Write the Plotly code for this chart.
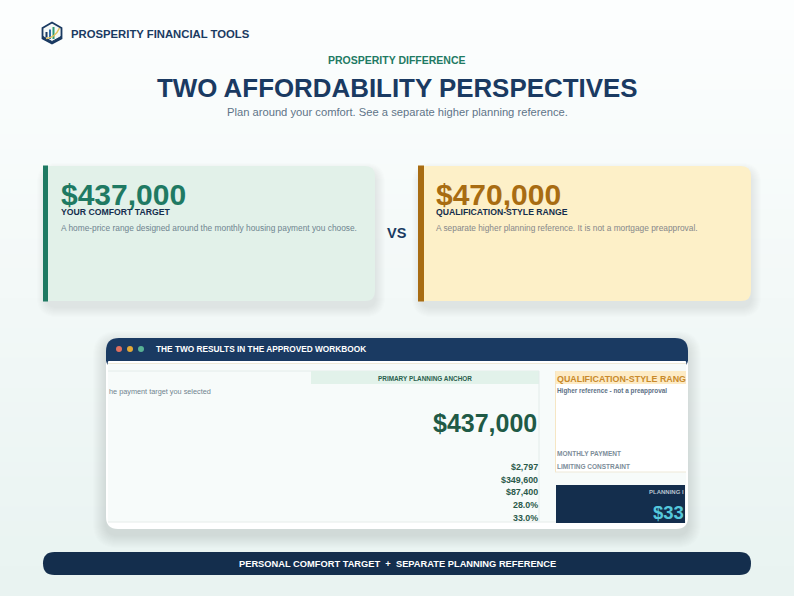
import plotly.graph_objects as go

WIDTH = 794
HEIGHT = 596
FONT = "Liberation Sans"

NAVY = "#1a3a62"
DARK_NAVY = "#142e4d"
GREEN = "#1f7a63"
BROWN = "#a86c12"

brand = "PROSPERITY FINANCIAL TOOLS"
eyebrow = "PROSPERITY DIFFERENCE"
title = "TWO AFFORDABILITY PERSPECTIVES"
subtitle = "Plan around your comfort. See a separate higher planning reference."

comfort_value = "$437,000"
comfort_label = "YOUR COMFORT TARGET"
comfort_note = "A home-price range designed around the monthly housing payment you choose."
range_value = "$470,000"
range_label = "QUALIFICATION-STYLE RANGE"
range_note = "A separate higher planning reference. It is not a mortgage preapproval."

window_title = "THE TWO RESULTS IN THE APPROVED WORKBOOK"
anchor_header = "PRIMARY PLANNING ANCHOR"
anchor_note = "he payment target you selected"
side_header = "QUALIFICATION-STYLE RANG"
side_note = "Higher reference - not a preapproval"
side_rows = ["MONTHLY PAYMENT", "LIMITING CONSTRAINT"]
sheet_values = ["$2,797", "$349,600", "$87,400", "28.0%", "33.0%"]
planning_label = "PLANNING I"
planning_value = "$33"
footer = "PERSONAL COMFORT TARGET  +  SEPARATE PLANNING REFERENCE"


def round_rect(x0, y0, x1, y1, r=(0, 0, 0, 0)):
    # r = top left, top right, bottom right, bottom left
    tl, tr, br, bl = r
    return (f"M{x0+tl},{y0} L{x1-tr},{y0} Q{x1},{y0} {x1},{y0+tr} "
            f"L{x1},{y1-br} Q{x1},{y1} {x1-br},{y1} "
            f"L{x0+bl},{y1} Q{x0},{y1} {x0},{y1-bl} "
            f"L{x0},{y0+tl} Q{x0},{y0} {x0+tl},{y0} Z")


def box(x0, y0, x1, y1, fill, r=(0, 0, 0, 0), line=None, opacity=1):
    return dict(type="path", path=round_rect(x0, y0, x1, y1, r), fillcolor=fill,
                opacity=opacity, line=dict(width=1 if line else 0, color=line or fill))


def shadow(x0, y0, x1, y1, radius, dy=5, spread=10, alpha=0.012):
    out = []
    for i in range(spread, 0, -1):
        out.append(box(x0 - i, y0 + dy - i, x1 + i, y1 + dy + i, "#34505f",
                       (radius + i,) * 4, opacity=alpha))
    return out


def label(x, y, text, size, color, anchor="left", bold=True):
    return dict(x=x, y=y, text=f"<b>{text}</b>" if bold else text, showarrow=False,
                xanchor=anchor, yanchor="middle", borderpad=0,
                font=dict(family=FONT, size=size, color=color))


shapes = []

# page background, light at the top going to a pale green grey
BANDS = 40
for i in range(BANDS):
    t = i / (BANDS - 1)
    c = [int(round(a + (b - a) * t)) for a, b in zip((252, 254, 254), (233, 243, 241))]
    shapes.append(dict(type="rect", x0=0, x1=WIDTH, y0=HEIGHT * i / BANDS, y1=HEIGHT * (i + 1) / BANDS + 1,
                       fillcolor=f"rgb({c[0]},{c[1]},{c[2]})", line=dict(width=0)))

# logo
shapes.append(dict(type="path", path="M52,22.5 L61.5,28 L61.5,38.5 L52,43.5 L42.5,38.5 L42.5,28 Z",
                   fillcolor="#f4f8f6", line=dict(color=NAVY, width=1.8)))
shapes.append(dict(type="path", path="M43,36.5 L52,41.5 L61,36.5 L61,38.5 L52,43.5 L43,38.5 Z",
                   fillcolor=NAVY, line=dict(color=NAVY, width=1)))
shapes.append(box(45.5, 32, 47.5, 37.5, NAVY))
shapes.append(box(49, 29.5, 51, 39, "#2d6ca8"))
shapes.append(box(52.5, 27, 54.5, 39, "#2f9a76"))
shapes.append(dict(type="path", path="M46,38.5 Q55,38 59.5,28", line=dict(color="#e3c35c", width=1.5)))

# comfort card
shapes += shadow(47, 167, 375, 301, 10, dy=6)
shapes.append(box(45, 166, 375, 301, "#e2f1e9", (0, 10, 10, 0)))
shapes.append(box(43, 165.5, 48, 301.5, GREEN))

# range card
shapes += shadow(422, 167, 751, 301, 10, dy=6)
shapes.append(box(420, 166, 751, 301, "#fdf0c8", (0, 10, 10, 0)))
shapes.append(box(418, 165.5, 424, 301.5, BROWN))

# workbook window
shapes += shadow(106, 338, 688, 529, 12, dy=6, spread=13)
shapes.append(box(106, 338, 688, 529, "#ffffff", (13, 13, 12, 12)))
shapes.append(box(108, 364, 686, 522, "#f7fbfa"))
shapes.append(box(106, 338, 688, 361, NAVY, (13, 13, 0, 0)))
shapes.append(dict(type="path", path="M106,360 L109,360 Q107.5,361.5 107.5,365 Q106,362 106,360 Z",
                   fillcolor=NAVY, line=dict(width=0)))
shapes.append(dict(type="path", path="M688,360 L685,360 Q686.5,361.5 686.5,365 Q688,362 688,360 Z",
                   fillcolor=NAVY, line=dict(width=0)))
shapes.append(dict(type="line", x0=108, x1=686, y0=363.5, y1=363.5, line=dict(color="#eee9d8", width=1)))
shapes.append(dict(type="line", x0=108, x1=539, y0=371, y1=371, line=dict(color="#e4ecea", width=1)))
shapes.append(box(311, 371, 539, 384, "#e2f2ea"))
shapes.append(dict(type="line", x0=539, x1=539, y0=371, y1=522, line=dict(color="#e3ecea", width=1)))
shapes.append(dict(type="line", x0=108, x1=686, y0=522, y1=522, line=dict(color="#e6ecea", width=1)))

# qualification panel
shapes.append(box(555, 371, 686, 472, "#ffffff"))
shapes.append(box(555, 371, 686, 384, "#fdebc6"))
shapes.append(dict(type="line", x0=555.5, x1=555.5, y0=371, y1=472, line=dict(color="#f6e6c4", width=1)))
shapes.append(dict(type="line", x0=555, x1=686, y0=472, y1=472, line=dict(color="#efe9d8", width=1)))
shapes.append(box(556, 485, 685, 523, DARK_NAVY))

# window buttons
for cx, color in zip((119, 130, 141), ("#df6f5f", "#e3a937", "#58b295")):
    shapes.append(dict(type="circle", x0=cx - 3, x1=cx + 3, y0=346, y1=352, fillcolor=color, line=dict(width=0)))

# footer pill
shapes.append(box(43, 552, 751, 575, DARK_NAVY, (11.5,) * 4))

annotations = [
    label(70, 34, brand, 11.3, NAVY),
    label(397, 60, eyebrow, 10.5, GREEN, "center"),
    label(397, 88, title, 25.9, NAVY, "center"),
    label(397, 112, subtitle, 11.2, "#5f7488", "center", bold=False),

    label(59.5, 194.5, comfort_value, 30, GREEN),
    label(59.5, 212, comfort_label, 8.7, DARK_NAVY),
    label(59.5, 228, comfort_note, 8.35, "#6f8590", bold=False),

    label(435, 194.5, range_value, 30, BROWN),
    label(435, 212, range_label, 8.67, DARK_NAVY),
    label(435, 228, range_note, 8.35, "#87888a", bold=False),

    label(397, 233, "VS", 14.5, NAVY, "center"),

    label(154.5, 349, window_title, 8.3, "#ffffff"),
    label(425, 378, anchor_header, 6.4, "#2a5f4d", "center"),
    label(108, 391, anchor_note, 7.3, "#71838f", bold=False),
    label(538, 423, comfort_value, 25, "#1f5a46", "right"),
    label(556, 378.5, side_header, 8.9, "#c98a2b"),
    label(556, 390.5, side_note, 6.4, "#5d7186"),
    label(556, 453.5, side_rows[0], 6.5, "#7d8d99"),
    label(556, 466, side_rows[1], 6.5, "#7d8d99"),
    label(685, 492, planning_label, 6, "#b8c4cf", "right"),
    label(652, 512, planning_value, 18.5, "#55c8dc"),
    label(397, 563.5, footer, 9.3, "#ffffff", "center"),
]

for row_y, text in zip((467, 479.5, 492, 505, 517.5), sheet_values):
    annotations.append(label(538.5, row_y, text, 8.9, "#2b5a4a", "right"))

fig = go.Figure()
fig.update_layout(
    width=WIDTH,
    height=HEIGHT,
    margin=dict(l=0, r=0, t=0, b=0),
    paper_bgcolor="#f4f9f9",
    plot_bgcolor="rgba(0,0,0,0)",
    showlegend=False,
    xaxis=dict(range=[0, WIDTH], visible=False, fixedrange=True),
    yaxis=dict(range=[HEIGHT, 0], visible=False, fixedrange=True),
    shapes=shapes,
    annotations=annotations,
)

fig.write_html("out.html", config=dict(displayModeBar=False),
               post_script="document.body.style.margin='0';document.body.style.overflow='hidden';")
